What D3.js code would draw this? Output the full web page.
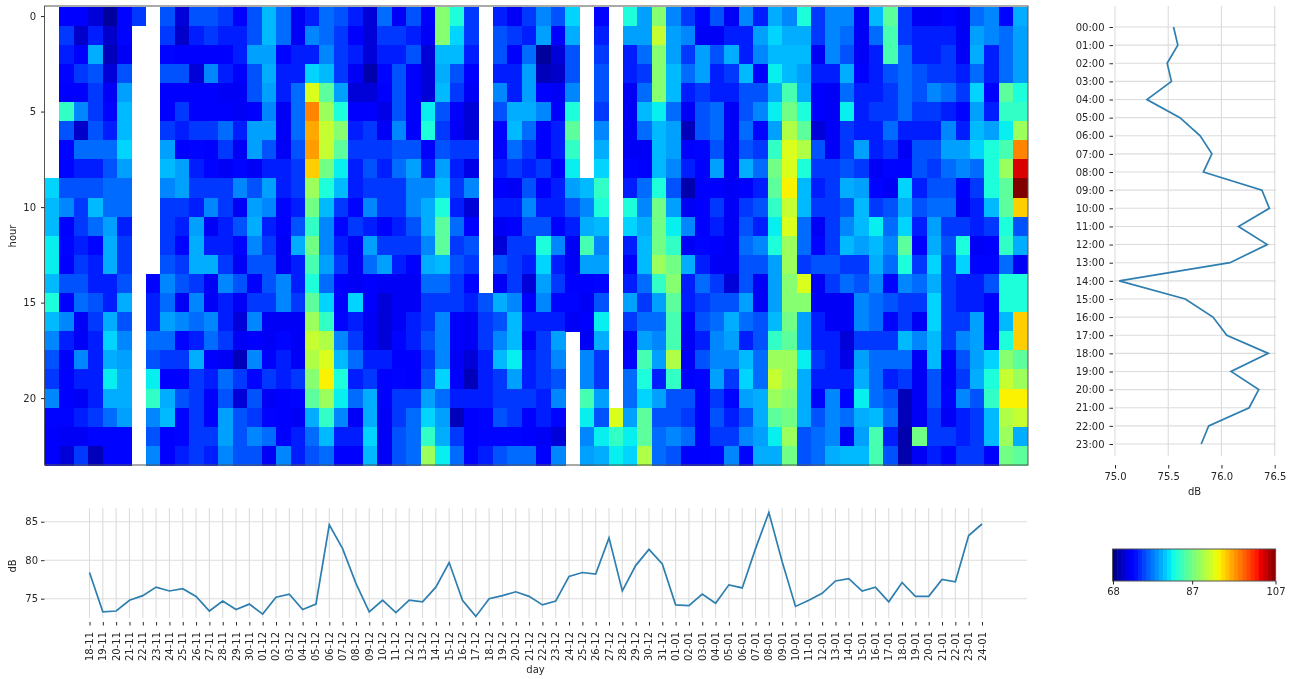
<!DOCTYPE html>
<html><head><meta charset="utf-8">
<script src="https://cdn.jsdelivr.net/npm/d3@7"></script>
<style>
html,body{margin:0;padding:0;background:#fff}
svg{display:block;filter:blur(0.35px)}
text{font-family:"DejaVu Sans",sans-serif;font-size:10px;fill:#262626}
</style></head><body>
<svg id="c" width="1300" height="679"></svg>
<script>
const days = ["18-11","19-11","20-11","21-11","22-11","23-11","24-11","25-11","26-11","27-11","28-11","29-11","30-11","01-12","02-12","03-12","04-12","05-12","06-12","07-12","08-12","09-12","10-12","11-12","12-12","13-12","14-12","15-12","16-12","17-12","18-12","19-12","20-12","21-12","22-12","23-12","24-12","25-12","26-12","27-12","28-12","29-12","30-12","31-12","01-01","02-01","03-01","04-01","05-01","06-01","07-01","08-01","09-01","10-01","11-01","12-01","13-01","14-01","15-01","16-01","17-01","18-01","19-01","20-01","21-01","22-01","23-01","24-01"];
const hours = ["00:00","01:00","02:00","03:00","04:00","05:00","06:00","07:00","08:00","09:00","10:00","11:00","12:00","13:00","14:00","15:00","16:00","17:00","18:00","19:00","20:00","21:00","22:00","23:00"];
const dailyDb = [78.4,73.3,73.4,74.8,75.4,76.5,76,76.3,75.3,73.4,74.7,73.6,74.3,73,75.2,75.6,73.6,74.3,84.6,81.5,77,73.3,74.8,73.2,74.8,74.6,76.5,79.7,74.8,72.7,75,75.4,75.9,75.3,74.2,74.7,77.9,78.4,78.2,82.9,76,79.3,81.4,79.5,74.2,74.1,75.6,74.4,76.8,76.4,81.5,86.2,79.8,74,74.8,75.7,77.3,77.6,76,76.5,74.6,77.1,75.3,75.3,77.5,77.2,83.2,84.7];
const hourlyDb = [75.55,75.59,75.49,75.53,75.30,75.61,75.80,75.91,75.83,76.38,76.45,76.16,76.43,76.08,75.04,75.66,75.92,76.05,76.44,76.09,76.35,76.26,75.88,75.81];
const colorTicks = [68,87,107];
const N = null;
// one row per day, 24 hourly values
const heat = [
[N,N,N,N,N,N,N,N,N,81,80,80,82,82,80,83,80,78,76,75,78,73,72.5,72.5],
[72.5,75,74,73,72.5,84,76,73,73,76,78,72.5,73,72.5,76,72.5,78,74,72.5,72.5,72.5,73,72,71],
[72.5,70.5,72.5,75,72.5,78,70.5,77,74,76,75,75,74,75,76,77,72,72,78,74,72,74,72,75],
[71,74,79.5,76,75,75,76,77,74,76,80,77,73,74,74,76,75,74,74,74,74,75,73,70],
[69,70.5,70,71,72,73,74,77,76,77,77,79,79.5,79.5,74,74,79.5,81,79.5,82,79.5,77,73,73],
[73,73,72,76,79,80,80,81,79,77,77,74,75,75,76,79.5,76,78,79,79.5,79.5,79,73,73],
[75,N,N,N,N,N,N,N,N,N,N,N,N,N,N,N,N,N,N,N,N,N,N,N],
[N,N,N,N,N,N,N,N,N,N,N,N,N,N,73,74,74,77,76,82,84,78,76,78],
[76,75,73,76,72.5,72.5,75,79,80,78,75,75,75,76,78,77,79,77,75,72.5,79.5,80,72.5,72.5],
[71,70.5,72.5,76,72.5,75,74,72.5,79,79,75,74,73,75,76,72,78,73,75,72.5,76,73,73,74],
[76,74,72.5,71,72.5,72.5,75,73,74,75,74,79,79.5,79.5,75,78,77,74,79.5,75,75,75,75,75],
[76,75,72.5,78,72.5,72.5,75,72.5,73,75,78,72,74,79.5,72,72,78,77,72.5,74,72.5,72.5,75,74],
[75,74,72.5,74,72,72.5,77,75,72,75,75,74,74,75,78,74,74,75,72,77,76,79,79,78],
[72.5,74,74,72.5,72,72,74,72,73,78,72,76,73,72,76,72,71,72,70,75,71,76,76,76],
[76,76,79,76,76,72.5,79,79,72,76,79,79.5,78,76,72.5,75,78,72.5,78,73,76,75,78,76],
[80,80,79,79.5,79,78,79,76,74,79,78,74,75,76,76,75,72,72,72.5,75,72,73,77,72],
[77,77,73,74,74,72,72,72,74,74,73,72.5,72,72,78,78,72,73,74,74,72.5,72.5,72.5,78],
[72,72,74,74,77,77,77,76,75,75,74,76,79.5,74,74,75,72,72,72,75,73,72,74,74],
[74,78,74,81,92,98,96.5,97,95,89,87,84,87,85,83,86,89,91,90,88,86,79.5,77,76],
[77,77,78,80,86,89,91,91,87,83,80,78,78,79,77,81,84,90,92,93.5,89,84,80,77],
[76,75,75,75,79,83,88,86,82,80,75,73,74,75,72.5,72.5,73,78,80,83,82,78,74,72.5],
[74,72.5,74,72,71,72.5,74,75,74,74,73,75,72,72,72,81,74,75,77,74,77,72,74,72.5],
[71,71,71,69.5,71,72.5,75,75,76,75,78,74,79,77,72.5,72.5,72,72,74,75,79.5,79.5,81,80],
[77,75,74,73,72.5,71.5,72,75,74,75,75,72.5,75,79,72,71,71,71,74,72.5,72.5,72,72,72],
[72,75,74,76,76,76,78,76,77,75,75,74,75,74,72,72,72,73,72.5,73,75,75,76,76],
[76,74,76,72.5,72.5,72.5,72.5,76,79,78,78,76,75,72.5,72,72,74,74,72.5,72.5,75,77,77,77],
[72.5,72,71,71,71,82,83,72.5,74,78,79.5,79.5,78,79.5,77,75,75,76,75,76,79,81,84,89],
[88,88,80,79.5,80,76,75,76,79,80,83,86,86,80,77,75,78,78,78,81,77,79,79.5,82],
[83,81,80,76,75,72.5,72,75,74,75,74,77,75,76,75,75,72.5,72.5,72,72.5,74,70,75,77],
[75,75,74,72.5,72,71,71,75,71.5,78,71,72.5,76,75,73,74,72,72,71,70,74,72.5,72.5,72.5],
[N,N,N,N,N,N,N,N,N,N,N,N,N,N,N,76,75,75,74,74,74,73,73,74],
[74,76,76,74,78,76,73,73,74,72.5,74,72,71,76,72,79.5,76,78,80,75,75,76,73,76],
[72,75,72.5,74,74,79.5,80,77,75,72,74,72.5,75,75,75,78,80,80,82,79,75,75,73,77],
[75,74,77,79,79,79.5,77,75,74,76,78,76,75,74,71,72.5,74,72.5,74,74,75,72.5,72.5,77],
[78,79,69,70,72.5,78,72.5,72.5,75,72.5,74,76,83,81,79,78,74,75,75,75,74,74,72,72.5],
[76,72.5,71,70.5,72,72.5,74,74,72.5,74,74,72.5,78,74,75,73,74,79,78,76,78,73,71,78],
[81,79.5,76,76,78,83,86,84,82,79,76,74,72,72,72.5,73,72,N,N,N,N,N,N,N],
[N,N,N,N,N,N,N,N,N,80,78,79.5,85,79,72.5,72,72.5,72,78,78,85,82,78,79],
[73,74,75,76,76,75,78,79.5,81,84,83,80,78,79,73,76,82,79.5,75,75,79,76,82,79.5],
[N,N,N,N,N,N,N,N,N,N,N,N,N,N,N,N,N,N,N,N,N,92,84,82],
[83,79,74,74,72,72,72,72,73,74,83,81,74,72.5,74,79,75,72.5,73,77,77,79,82,81],
[79,79,77,75,77,80,77,72,72.5,77,78,79.5,80,80,77,75,77,79,85,83,81,86,86,90],
[88,91,88,88,88,82,80,80,80,83,87,87,87,89,84,79,77,78,79,74,79,76,77,77],
[78,79,79,80,80,77,79,79,78,76,79,82,84,87,88,86,85,85,90,84,76,76,78,76],
[75,78,75,77,74,72,70,72.5,74,69.5,72,78,72,79.5,74,74,72.5,72,72,72.5,76,75,77,72.5],
[73,72,79,79,75,76,76,73,72.5,72.5,72.5,72.5,73,74,77,75,76,74,76,73,72.5,72.5,72.5,72.5],
[76,72,76,74,74,77,77,76,79,72.5,75,74,72.5,72,75,76,77,78,78,79,75,76,75,73],
[72,74,79.5,75,74,72,72,72,72,72,72,72,72,72,71,76,79.5,79,78,75,73,74,75,78],
[78,74,74,80,76,76,77,76,79.5,72.5,75,76,77,76,76,79,77,74,80,81,79,76,78,73],
[74,79,78,72.5,76,78,73,75,77,74,76,74,78,76,72,72,76,76,77,77,79.5,79.5,79,79.5],
[79.5,81,80,82,79.5,82,79,84,87,86,84,82,83,79,79,79,80,84,89,91,89,86,82,79.5],
[78,79.5,80,80,85,87,90,92,92,93.5,91,92,89,89,88,88,87,86,89,89,88,87,89,87],
[83,79.5,80,79,79.5,83,86,90,83,80,80,77,77,75,92,88,79,79,82,79.5,79.5,79.5,76,76],
[75,75,72,74,72.5,72.5,71,76,75,74,75,72,73,76,72,72,74,74,75,74,73,76,77,77],
[78,78,78,74,72,72,72,72,75,75,75,75,75,76,75,72,72,74,74,74,78,78,78,79.5],
[78,77,76,79.5,77,82,75,75,76,79.5,76,78,80,75,77,72,72,71,71.5,74,73,77,72,80],
[72,72,72,72.5,74,74,74,79,75,79,80,80,79,75,76,78,78,75,79,79.5,82,79.5,79,80],
[80,77,74,74,74,75,74,74,72,73,75,82,80,79.5,78,77,77,75,77,77,77,80,85,85],
[86,85,85,76,75,75,77,75,73,72,76,77,78,77,73,76,73,75,77,74,76,77,74,76],
[75,75,77,77,77,77,74,72,73,81,79.5,81,86,83,78,75,75,80,77,75,70,70,69.5,69.5],
[72,74,74,76,76,75,74,76,76,74,76,74,72.5,75,77,75,72,78,72,72,72,72,87,72],
[72,74,74,75,78,75,74,76,75,76,77,79,79.5,81,79.5,81,81,80,80,76,76,75,75,74],
[73,74,75,75,77,74,78,79,77,76,77,75,76,75,75,75,75,75,72.5,72.5,73,72,75,72.5],
[72,72,72,74,75,73,74,79,78,72.5,72,75,83,81,74,74,75,78,76,75,78,74,74,75],
[77,79,79.5,77,81,79,80,81,77,75,74,74,72,73,74,74,79,79,79,79.5,76,75,75,75],
[78,78,74,74,72.5,74,79,83,83,83,80,75,72.5,73,76,72.5,72.5,73,81,83,84,80,80,72.5],
[73,77,77,77,86,84,82,85,89,86,86,83,84,77,83,83,80,83,88,91,93.5,90,89,87],
[79.5,79,79,79,83,84,89,98,104,107,95,76,79.5,72,83,83,95,95,86,89,93.5,91,79.5,86]
];

const svg = d3.select("#c");
const GRID = "#dcdcdc", LINE = "#2e7fb0", INK = "#262626";

// matplotlib jet
const jetR = d3.scaleLinear().domain([0,.35,.66,.89,1]).range([0,0,1,1,.5]);
const jetG = d3.scaleLinear().domain([0,.125,.375,.64,.91,1]).range([0,0,1,1,0,0]);
const jetB = d3.scaleLinear().domain([0,.11,.34,.65,1]).range([.5,1,1,0,0]);
const norm = d3.scaleLinear().domain([68,107]).range([0,1]).clamp(true);
const jet = v => { const t = norm(v);
  return d3.rgb(jetR(t)*255, jetG(t)*255, jetB(t)*255).formatRgb(); };

// heatmap
const hx = d3.scaleBand().domain(days).range([44.8,1027.8]);
const hy = d3.scaleBand().domain(d3.range(24)).range([6.5,465]);
const cells = days.flatMap((d,i) => heat[i].map((v,h) => ({d,h,v}))).filter(c => c.v !== null);
svg.append("g").attr("shape-rendering","crispEdges").selectAll("rect").data(cells).join("rect")
  .attr("x",c=>hx(c.d)).attr("y",c=>hy(c.h)).attr("width",hx.bandwidth()+.5).attr("height",hy.bandwidth()+.5)
  .attr("fill",c=>jet(c.v));
svg.append("rect").attr("x",44.5).attr("y",6).attr("width",983.5).attr("height",459)
  .attr("fill","none").attr("stroke","#555").attr("stroke-width",1);
const hyPos = d3.scaleLinear().domain([0,23]).range([hy(0)+hy.bandwidth()/2,hy(23)+hy.bandwidth()/2]);
const heatAxis = svg.append("g").attr("transform","translate(44.5,0)")
  .call(d3.axisLeft(hyPos).tickValues([0,5,10,15,20]).tickFormat(d3.format("d")).tickSize(3.5).tickPadding(5));
heatAxis.select(".domain").remove();
heatAxis.selectAll("line").attr("stroke",INK);
svg.append("text").attr("transform","translate(13,236) rotate(-90)").attr("text-anchor","middle").attr("dominant-baseline","middle").text("hour");

// daily line
const dx = d3.scalePoint().domain(days).range([89.5,982]);
const dy = d3.scaleLinear().domain([75,85]).range([598.7,521.7]);
const dg = svg.append("g");
dg.selectAll(".v").data(days).join("line").attr("x1",d=>dx(d)).attr("x2",d=>dx(d)).attr("y1",508).attr("y2",618).attr("stroke",GRID).attr("stroke-width",1.1);
dg.selectAll(".h").data([75,80,85]).join("line").attr("x1",45).attr("x2",1027).attr("y1",d=>dy(d)).attr("y2",d=>dy(d)).attr("stroke",GRID).attr("stroke-width",1.1);
svg.append("path").datum(dailyDb).attr("fill","none").attr("stroke",LINE).attr("stroke-width",1.7)
  .attr("d",d3.line().x((v,i)=>dx(days[i])).y(v=>dy(v)));
const dxAxis = svg.append("g").attr("transform","translate(0,622)").call(d3.axisBottom(dx).tickSize(3.5).tickPadding(0));
dxAxis.select(".domain").remove();
dxAxis.selectAll("line").attr("stroke",INK);
dxAxis.selectAll("text").attr("text-anchor","end").attr("dominant-baseline","middle").attr("transform","translate(0,10) rotate(-90)").attr("y",0).attr("dy",0);
const dyAxis = svg.append("g").attr("transform","translate(44.5,0)").call(d3.axisLeft(dy).tickValues([75,80,85]).tickSize(3.5).tickPadding(3));
dyAxis.select(".domain").remove();
dyAxis.selectAll("line").attr("stroke",INK);
svg.append("text").attr("transform","translate(13,566) rotate(-90)").attr("text-anchor","middle").attr("dominant-baseline","middle").text("dB");
svg.append("text").attr("x",535.5).attr("y",670).attr("text-anchor","middle").attr("dominant-baseline","middle").text("day");

// hourly line
const rx = d3.scaleLinear().domain([75,76.5]).range([1115,1274.7]);
const ry = d3.scalePoint().domain(hours).range([27,444]);
const rg = svg.append("g");
rg.selectAll(".v").data([75,75.5,76,76.5]).join("line").attr("x1",d=>rx(d)).attr("x2",d=>rx(d)).attr("y1",6).attr("y2",456).attr("stroke",GRID).attr("stroke-width",1.1);
rg.selectAll(".h").data(hours).join("line").attr("x1",1115).attr("x2",1276).attr("y1",d=>ry(d)).attr("y2",d=>ry(d)).attr("stroke",GRID).attr("stroke-width",1.1);
svg.append("path").datum(hourlyDb).attr("fill","none").attr("stroke",LINE).attr("stroke-width",1.7)
  .attr("d",d3.line().x(v=>rx(v)).y((v,i)=>ry(hours[i])));
const rxAxis = svg.append("g").attr("transform","translate(0,465)").call(d3.axisBottom(rx).tickValues([75,75.5,76,76.5]).tickFormat(d3.format(".1f")).tickSize(3.5).tickPadding(4));
rxAxis.select(".domain").remove();
rxAxis.selectAll("line").attr("stroke",INK);
const ryAxis = svg.append("g").attr("transform","translate(1113,0)").call(d3.axisLeft(ry).tickSize(3.5).tickPadding(5));
ryAxis.select(".domain").remove();
ryAxis.selectAll("line").attr("stroke",INK);
svg.append("text").attr("x",1194.5).attr("y",492).attr("text-anchor","middle").attr("dominant-baseline","middle").text("dB");

// colour bar
const cx = d3.scaleLinear().domain([68,107]).range([1113,1275.5]);
const bands = d3.range(68,107,1);
svg.append("g").selectAll("rect").data(bands).join("rect")
  .attr("x",v=>cx(v)).attr("y",549).attr("width",v=>cx(v+1)-cx(v)+.6).attr("height",32).attr("fill",v=>jet(v+.5));
svg.append("rect").attr("x",1112.5).attr("y",549).attr("width",163).attr("height",32).attr("fill","none").attr("stroke","#555");
const cAxis = svg.append("g").attr("transform","translate(0,581)").call(d3.axisBottom(cx).tickValues(colorTicks).tickFormat(d3.format("d")).tickSize(3.5).tickPadding(3));
cAxis.select(".domain").remove();
cAxis.selectAll("line").attr("stroke",INK);
</script></body></html>
